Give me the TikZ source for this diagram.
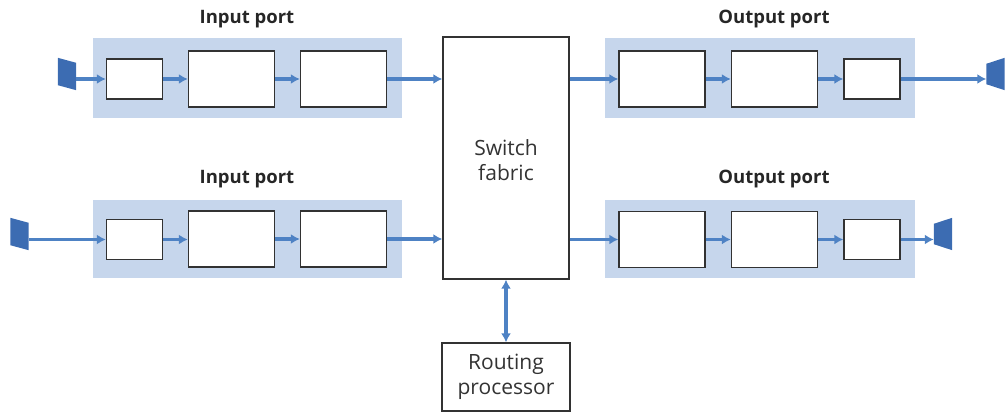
\documentclass[tikz,border=0pt]{standalone}
\usepackage{fontspec}
\setmainfont{Open Sans}
\usetikzlibrary{arrows.meta,calc}
\definecolor{bandc}{RGB}{198,214,236}
\definecolor{arrc}{RGB}{78,130,196}
\definecolor{portc}{RGB}{60,108,178}
\definecolor{edgec}{RGB}{50,50,50}
\tikzset{
  band/.style={fill=bandc,draw=none,inner sep=0pt},
  unit/.style={draw=edgec,fill=white,line width=1.3pt,inner sep=0pt},
  small/.style={unit,minimum width=56pt,minimum height=40pt},
  big/.style={unit,minimum width=86pt,minimum height=56pt},
  portnode/.style={inner sep=0pt,minimum width=18pt,minimum height=32pt},
  flow/.style={draw=arrc,line width=3.5pt,-{Latex[length=9pt,width=10pt]}},
  dflow/.style={draw=arrc,line width=3.5pt,{Latex[length=9pt,width=10pt]}-{Latex[length=9pt,width=10pt]}},
  title/.style={font=\fontsize{18.5}{22}\selectfont\bfseries,text=black!85},
  plain/.style={font=\fontsize{21}{25}\selectfont,text=black!80,align=center}
}
\begin{document}
\begin{tikzpicture}[x=1pt,y=-1pt]
\useasboundingbox (0,0) rectangle (1007,412);
% bands
\node[band,minimum width=309pt,minimum height=80pt] (bi1) at (247.5,78) {};
\node[band,minimum width=309pt,minimum height=78pt] (bi2) at (247.5,239) {};
\node[band,minimum width=310pt,minimum height=80pt] (bo1) at (760,78) {};
\node[band,minimum width=310pt,minimum height=78pt] (bo2) at (760,239) {};
% titles
\node[title] (ti1) at (247,19) {Input port};
\node[title] (ti2) at (247,179) {Input port};
\node[title] (to1) at (774,19) {Output port};
\node[title] (to2) at (774,179) {Output port};
% input port 1
\node[small] (i1a) at (134.5,79) {};
\node[big] (i1b) at (231.5,79) {};
\node[big] (i1c) at (343.5,79) {};
% input port 2
\node[small] (i2a) at (134.5,239.5) {};
\node[big] (i2b) at (231.5,239) {};
\node[big] (i2c) at (343.5,239) {};
% output port 1
\node[big] (o1a) at (662,79) {};
\node[big] (o1b) at (774.5,79) {};
\node[small] (o1c) at (872,79) {};
% output port 2
\node[big] (o2a) at (662,239.5) {};
\node[big] (o2b) at (774.5,239.5) {};
\node[small] (o2c) at (872,239.5) {};
% switch fabric and routing processor
\node[unit,minimum width=126pt,minimum height=242pt] (sw) at (506,158) {};
\node[plain] (swt) at (506,160) {Switch\\fabric};
\node[unit,minimum width=128pt,minimum height=68pt,plain] (rp) at (506,377) {Routing\\processor};
% port symbols
\node[portnode] (pi1) at (67,74) {};
\node[portnode] (pi2) at (19.5,234) {};
\node[portnode] (po1) at (995.5,74) {};
\node[portnode] (po2) at (943,234) {};
\foreach \p in {pi1,pi2}{
  \fill[portc] (\p.north west) -- ([yshift=-5pt]\p.north east) -- (\p.south east) -- ([yshift=5pt]\p.south west) -- cycle;
}
\foreach \p in {po1,po2}{
  \fill[portc] ([yshift=-6pt]\p.north west) -- (\p.north east) -- (\p.south east) -- ([yshift=6pt]\p.south west) -- cycle;
}
% connectors input 1
\draw[flow] (pi1.east |- i1a.west) -- (i1a.west);
\draw[flow] (i1a.east) -- (i1b.west |- i1a.east);
\draw[flow] (i1b.east) -- (i1c.west);
\draw[flow] (i1c.east) -- (i1c.east -| sw.west);
% connectors input 2
\draw[flow] (pi2.east |- i2a.west) -- (i2a.west);
\draw[flow] (i2a.east) -- (i2b.west |- i2a.east);
\draw[flow] (i2b.east) -- (i2c.west);
\draw[flow] (i2c.east) -- (i2c.east -| sw.west);
% connectors output 1
\draw[flow] (o1a.west -| sw.east) -- (o1a.west);
\draw[flow] (o1a.east) -- (o1b.west);
\draw[flow] (o1b.east) -- (o1c.west |- o1b.east);
\draw[flow] (o1c.east) -- (po1.west |- o1c.east);
% connectors output 2
\draw[flow] (o2a.west -| sw.east) -- (o2a.west);
\draw[flow] (o2a.east) -- (o2b.west);
\draw[flow] (o2b.east) -- (o2c.west |- o2b.east);
\draw[flow] (o2c.east) -- (po2.west |- o2c.east);
% switch <-> routing processor
\draw[dflow] (sw.south) -- (rp.north);
\end{tikzpicture}
\end{document}
